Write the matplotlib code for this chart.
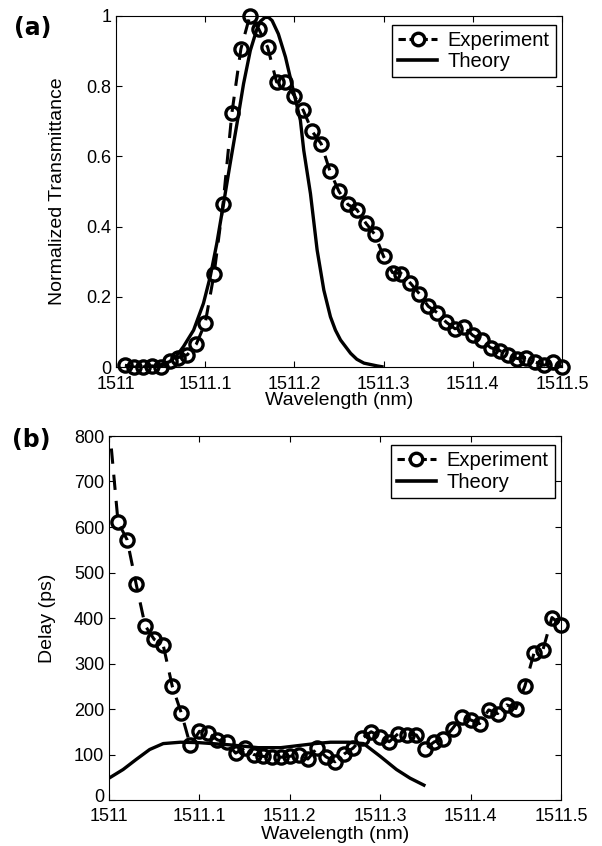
import numpy as np
import matplotlib
matplotlib.use("Agg")
import matplotlib.pyplot as plt
import matplotlib.transforms as mtransforms
from matplotlib.lines import Line2D

plt.rcParams['font.family'] = ['Liberation Sans', 'DejaVu Sans']

# ---- panel (a): transmittance ----
exp_a_wl = [1511.01, 1511.02, 1511.03, 1511.04, 1511.05, 1511.06, 1511.07, 1511.08, 1511.09, 1511.10,
            1511.11, 1511.12, 1511.13, 1511.14, 1511.15, 1511.16, 1511.17, 1511.18, 1511.19, 1511.20,
            1511.21, 1511.22, 1511.23, 1511.24, 1511.25, 1511.26, 1511.27, 1511.28, 1511.29, 1511.30,
            1511.31, 1511.32, 1511.33, 1511.34, 1511.35, 1511.36, 1511.37, 1511.38, 1511.39, 1511.40,
            1511.41, 1511.42, 1511.43, 1511.44, 1511.45, 1511.46, 1511.47, 1511.48, 1511.49, 1511.50]
exp_a_T = [0.005, 0.0, 0.0, 0.003, 0.0, 0.016, 0.027, 0.035, 0.065, 0.125,
           0.266, 0.464, 0.725, 0.906, 1.0, 0.963, 0.911, 0.812, 0.812, 0.772,
           0.731, 0.671, 0.636, 0.557, 0.5, 0.463, 0.448, 0.41, 0.378, 0.315,
           0.269, 0.266, 0.239, 0.209, 0.173, 0.155, 0.128, 0.109, 0.114, 0.09,
           0.076, 0.055, 0.047, 0.033, 0.024, 0.027, 0.014, 0.005, 0.014, 0.0]

theo_a_wl = [1511.03, 1511.045, 1511.06, 1511.068, 1511.0756, 1511.087, 1511.098, 1511.1056,
             1511.113, 1511.1206, 1511.128, 1511.1356, 1511.143, 1511.1506, 1511.158, 1511.162,
             1511.167, 1511.171, 1511.175, 1511.182, 1511.190, 1511.197, 1511.2067, 1511.2105,
             1511.218, 1511.2255, 1511.233, 1511.2404, 1511.246, 1511.2517, 1511.263, 1511.27,
             1511.278, 1511.293, 1511.30]
theo_a_T = [0.0, 0.002, 0.015, 0.032, 0.058, 0.105, 0.181, 0.257,
            0.352, 0.466, 0.58, 0.693, 0.807, 0.902, 0.963, 0.985,
            0.996, 0.996, 0.987, 0.949, 0.883, 0.807, 0.703, 0.617,
            0.494, 0.333, 0.219, 0.143, 0.105, 0.077, 0.039, 0.022,
            0.011, 0.003, 0.0]

# ---- panel (b): delay ----
exp_b_wl = [1511.00] + exp_a_wl
exp_b_delay = [830, 611, 572, 475, 383, 353, 340, 250, 191, 120, 151,
               147, 132, 127, 103, 114, 100, 96, 95, 94, 96,
               100, 90, 114, 95, 84, 101, 114, 136, 150, 139,
               128, 146, 143, 143, 113, 128, 133, 157, 183, 176,
               168, 198, 190, 209, 201, 250, 322, 330, 401, 384]

theo_b_wl = [1511.0, 1511.0156, 1511.03, 1511.045, 1511.06, 1511.079, 1511.10, 1511.135,
             1511.165, 1511.19, 1511.228, 1511.245, 1511.265, 1511.2816, 1511.30, 1511.318,
             1511.333, 1511.35]
theo_b_delay = [48, 67, 89, 111, 124, 127, 126, 121,
                115, 115, 124, 127, 127, 124, 96, 67,
                48, 31]

xticks = [1511.0, 1511.1, 1511.2, 1511.3, 1511.4, 1511.5]
xtick_labels = ['1511', '1511.1', '1511.2', '1511.3', '1511.4', '1511.5']
yticks_a = [0, 0.2, 0.4, 0.6, 0.8, 1.0]
ytick_labels_a = ['0', '0.2', '0.4', '0.6', '0.8', '1']
yticks_b = [0, 100, 200, 300, 400, 500, 600, 700, 800]

LW = 2.2
MS = 9.5
MEW = 2.4
DASH = (5.0, 3.6)


def draw_panel(ax, ex, ey, tx, ty, ylim, xpad):
    ex = np.array(ex)
    ey = np.array(ey)
    ax.plot(ex, ey, color='black', lw=LW, linestyle=(0, DASH), zorder=2)
    inside = ey <= ylim[1]
    ax.plot(ex[inside], ey[inside], 'o', color='black', mfc='none', ms=MS, mew=MEW,
            clip_on=False, zorder=3)
    ax.plot(tx, ty, color='black', lw=2.4, solid_capstyle='butt', solid_joinstyle='round',
            zorder=4)
    ax.set_xlim(1511.0, 1511.5)
    ax.set_ylim(*ylim)
    ax.set_xticks(xticks)
    ax.set_xticklabels(xtick_labels)
    ax.tick_params(direction='in', top=True, right=True, length=4, width=0.8,
                   labelsize=13)
    ax.tick_params(axis='x', pad=xpad)
    ax.tick_params(axis='y', pad=3.5)
    for s in ax.spines.values():
        s.set_linewidth(0.8)
    handles = [Line2D([], [], color='black', lw=LW, linestyle=(0, (2.4, 1.2)), marker='o',
                      mfc='white', ms=MS - 0.5, mew=MEW),
               Line2D([], [], color='black', lw=2.6)]
    leg = ax.legend(handles, ['Experiment', 'Theory'], loc='upper right',
                    bbox_to_anchor=(0.986, 0.975), borderaxespad=0, fancybox=False,
                    edgecolor='black', framealpha=1, fontsize=14.5, handlelength=1.9,
                    handletextpad=0.55, borderpad=0.3, labelspacing=0.12)
    leg.get_frame().set_linewidth(1.0)


fig = plt.figure(figsize=(6.02, 8.46), dpi=100)

ax1 = fig.add_axes([116 / 602, 1 - 367 / 846, 446 / 602, 351 / 846])
draw_panel(ax1, exp_a_wl, exp_a_T, theo_a_wl, theo_a_T, (0, 1), 6.5)
ax1.set_yticks(yticks_a)
ax1.set_yticklabels(ytick_labels_a)
ax1.set_xlabel('Wavelength (nm)', fontsize=14)
ax1.xaxis.set_label_coords(0.5, -0.07)
ax1.set_ylabel('Normalized Transmittance', fontsize=14)
ax1.yaxis.set_label_coords(-0.112, 0.5)

ax2 = fig.add_axes([109 / 602, 1 - 800 / 846, 452 / 602, 364 / 846])
draw_panel(ax2, exp_b_wl, exp_b_delay, theo_b_wl, theo_b_delay, (0, 800), 5.5)
ax2.set_yticks(yticks_b)
ax2.set_xlabel('Wavelength (nm)', fontsize=14)
ax2.xaxis.set_label_coords(0.5, -0.071)
ax2.set_ylabel('Delay (ps)', fontsize=14)
ax2.yaxis.set_label_coords(-0.118, 0.5)

# nudge the "0" delay label up a little so it clears the "1511" tick label
lbl0 = ax2.get_yticklabels()[0]
lbl0.set_transform(lbl0.get_transform() +
                   mtransforms.ScaledTranslation(0, 3 / 72, fig.dpi_scale_trans))

fig.text(14 / 602, 1 - 28 / 846, '(a)', fontsize=17, fontweight='bold',
         family='DejaVu Sans', ha='left', va='center')
fig.text(12 / 602, 1 - 440 / 846, '(b)', fontsize=17, fontweight='bold',
         family='DejaVu Sans', ha='left', va='center')

fig.savefig('out.png', dpi=100)
